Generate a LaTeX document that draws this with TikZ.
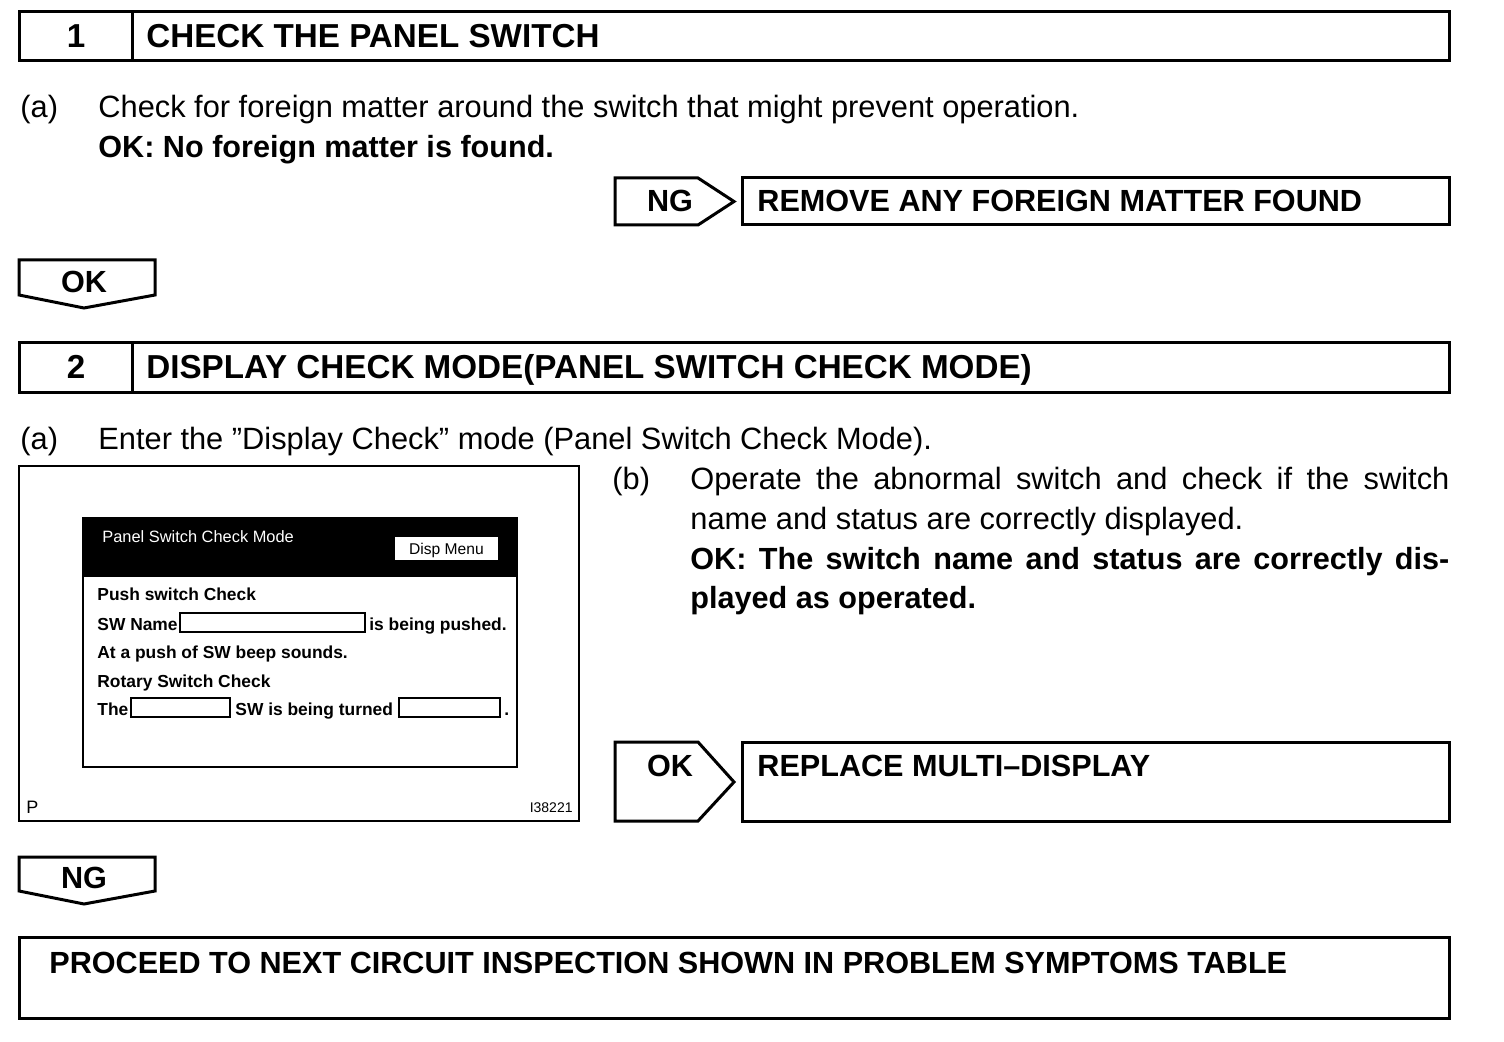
\documentclass[tikz,border=0pt]{standalone}
\usepackage{fontspec}
\setmainfont{Liberation Sans}
\begin{document}
\begin{tikzpicture}[x=0.5pt,y=-0.5pt,
  frame/.style={draw,line width=1.5pt},
  scr/.style={draw,line width=1pt},
  slot/.style={draw,line width=0.6pt},
  tx/.style={anchor=base west,inner sep=0pt,font=\fontsize{15.4}{20}\selectfont},
  bx/.style={anchor=base west,inner sep=0pt,font=\fontsize{15.3}{20}\selectfont\bfseries},
  hx/.style={anchor=base west,inner sep=0pt,font=\fontsize{16.6}{20}\selectfont\bfseries},
  sx/.style={anchor=base west,inner sep=0pt,font=\fontsize{8.7}{10}\selectfont\bfseries},
  sw/.style={anchor=base west,inner sep=0pt,text=white,font=\fontsize{8.2}{10}\selectfont}]
\useasboundingbox (0,0) rectangle (1504,1042);

% Header 1
\draw[frame] (19,12) rectangle (1449,61);
\draw[frame] (132,12) -- (132,61);
\node[hx,anchor=base] (n1) at (76,48) {1};
\node[hx] (h1) at (146,48) {CHECK THE PANEL SWITCH};

\node[tx] (a1) at (20,118) {(a)};
\node[tx] (a1t) at (98,118) {Check for foreign matter around the switch that might prevent operation.};
\node[bx] (ok1t) at (98,158) {OK: No foreign matter is found.};

% NG right arrow
\draw[frame] (615,178) -- (698,178) -- (734,201.5) -- (698,225) -- (615,225) -- cycle;
\node[bx,anchor=base] (ng1) at (670,212) {NG};
\draw[frame] (742,178) rectangle (1449,225);
\node[bx] (r1) at (757,212) {REMOVE ANY FOREIGN MATTER FOUND};

% OK down
\draw[frame] (19,260) -- (155,260) -- (155,295) -- (84,308) -- (19,295) -- cycle;
\node[bx,anchor=base] (okd) at (84,293) {OK};

% Header 2
\draw[frame] (19,343) rectangle (1449,393);
\draw[frame] (132,343) -- (132,393);
\node[hx,anchor=base] (n2) at (76,379) {2};
\node[hx] (h2) at (146,379) {DISPLAY CHECK MODE(PANEL SWITCH CHECK MODE)};

\node[tx] (a2) at (20,450) {(a)};
\node[tx] (a2t) at (98,450) {Enter the ”Display Check” mode (Panel Switch Check Mode).};

% Illustration
\draw[line width=1.3pt] (19,466) rectangle (579,821);
\draw[scr] (83,518) rectangle (517,767);
\fill (83,518) rectangle (517,577);
\fill[white] (395,537) rectangle (498,560);
\node[sw] (st) at (102,543) {Panel Switch Check Mode};
\node[anchor=base,inner sep=0pt,font=\fontsize{7.8}{10}\selectfont] (dm) at (446.5,554) {Disp Menu};
\node[sx] (s1) at (97,601) {Push switch Check};
\node[sx] (s2) at (97,630) {SW Name};
\draw[slot] (180,613) rectangle (365,632);
\node[sx] (s2b) at (369,630) {is being pushed.};
\node[sx] (s3) at (97,658) {At a push of SW beep sounds.};
\node[sx] (s4) at (97,687) {Rotary Switch Check};
\node[sx] (s5) at (97,715) {The};
\draw[slot] (131,698) rectangle (230,717);
\node[sx] (s5b) at (235,715) {SW is being turned};
\draw[slot] (399,698) rectangle (500,717);
\node[sx] (s5c) at (504,715) {.};
\node[anchor=base west,inner sep=0pt,font=\fontsize{9}{10}\selectfont] (pp) at (26,813) {P};
\node[anchor=base east,inner sep=0pt,font=\fontsize{7}{10}\selectfont] (code) at (573,812) {I38221};

% (b)
\node[tx] (b) at (612,490) {(b)};
\node[tx] (b1) at (690,490) {\makebox[379.5pt][s]{Operate the abnormal switch and check if the switch}};
\node[tx] (b2) at (690,530) {name and status are correctly displayed.};
\node[bx] (b3) at (690,569) {\makebox[379.5pt][s]{OK: The switch name and status are correctly dis-}};
\node[bx] (b4) at (690,609) {played as operated.};

% OK right arrow
\draw[frame] (615,742) -- (698,742) -- (734,782) -- (698,821) -- (615,821) -- cycle;
\node[bx,anchor=base] (ok2) at (670,776) {OK};
\draw[frame] (742,742) rectangle (1449,821);
\node[bx] (r2) at (757,776) {REPLACE MULTI–DISPLAY};

% NG down
\draw[frame] (19,857) -- (155,857) -- (155,891) -- (84,904) -- (19,891) -- cycle;
\node[bx,anchor=base] (ngd) at (84,888) {NG};

% Bottom
\draw[frame] (19,937) rectangle (1449,1018);
\node[bx] (fin) at (49,973) {PROCEED TO NEXT CIRCUIT INSPECTION SHOWN IN PROBLEM SYMPTOMS TABLE};
\end{tikzpicture}
\end{document}
